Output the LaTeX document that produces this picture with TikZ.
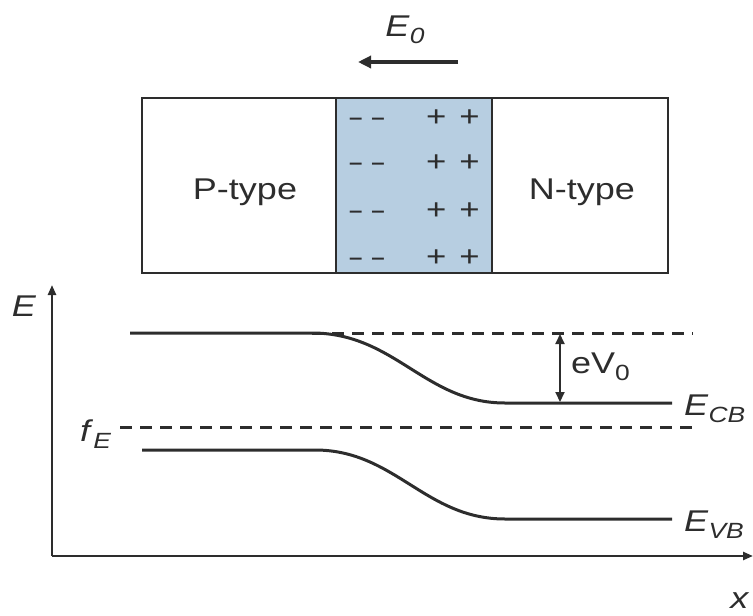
\documentclass[tikz,border=0pt]{standalone}
\usepackage{fontspec}
\setmainfont{Liberation Sans}[FakeStretch=1.2]
\usetikzlibrary{arrows.meta}
\definecolor{ln}{RGB}{45,45,45}
\definecolor{dep}{RGB}{183,206,225}
\newcommand\sublbl[3]{#1\raisebox{-0.45ex}{\fontsize{#3}{#3}\selectfont #2}}
\begin{document}
\begin{tikzpicture}[x=1pt,y=-1pt,
  lbl/.style={inner sep=0pt, text=ln},
  big/.style={lbl, font=\fontsize{30}{32}\selectfont},
  chg/.style={lbl, font=\fontsize{29}{30}\selectfont},
  mns/.style={lbl, font=\bfseries\fontsize{20}{22}\selectfont},
  band/.style={draw=ln, line width=3pt},
  dsh/.style={draw=ln, line width=3pt, dash pattern=on 12pt off 8pt},
  axis/.style={draw=ln, line width=2.4pt, -{Triangle[length=10pt,width=8pt]}}]
\useasboundingbox (0,0) rectangle (753,616);
% junction
\draw[ln, line width=1.4pt] (142,98) rectangle (668,273);
\path[fill=dep, draw=ln, line width=1.6pt] (336,98) rectangle (492,273);
\node[big] (p) at (245,192) {P-type};
\node[big] (n) at (582,192) {N-type};
\foreach \y/\i in {118/1,163/2,211/3,258/4}{
  \node[mns] (m\i) at (367,\y+3) {–\hspace{9pt}–};
  \node[chg] (pl\i) at (453,\y) {+\hspace{13pt}+};
}
% field
\node[big] (e0) at (405,30) {\sublbl{\textit{E}}{\textit{0}}{22}};
\coordinate (a1) at (458,62);
\coordinate (a2) at (358,62);
\draw[draw=ln, line width=4pt, -{Triangle[length=13pt,width=12pt]}] (a1) -- (a2);
% axes
\coordinate (o) at (52,556);
\coordinate (ytop) at (52,285);
\coordinate (xend) at (753,556);
\draw[axis] (o) -- (ytop);
\draw[axis] (o) -- (xend);
\node[big] (el) at (24,306) {\textit{E}};
\node[big] (xl) at (740,601) {\textit{x}};
% bands
\coordinate (cb0) at (130,333);
\coordinate (cb1) at (312,333);
\coordinate (cb2) at (505,403);
\coordinate (cb3) at (672,403);
\draw[band] (cb0) -- (cb1) .. controls (395,333) and (425,403) .. (cb2) -- (cb3);
\coordinate (vb0) at (142,450);
\coordinate (vb1) at (315,450);
\coordinate (vb2) at (505,519);
\coordinate (vb3) at (672,519);
\draw[band] (vb0) -- (vb1) .. controls (395,450) and (425,519) .. (vb2) -- (vb3);
\coordinate (d0) at (312,333);
\coordinate (d1) at (693,333);
\draw[dsh] (d0) -- (d1);
\coordinate (f0) at (120,427);
\coordinate (f1) at (693,427);
\draw[dsh] (f0) -- (f1);
% eV0
\coordinate (v0) at (560,334);
\coordinate (v1) at (560,402);
\draw[draw=ln, line width=2pt, {Triangle[length=10pt,width=9pt]}-{Triangle[length=10pt,width=9pt]}] (v0) -- (v1);
\node[big, anchor=west] (ev) at (571,367) {\sublbl{eV}{0}{22}};
\node[big, anchor=west] (ecb) at (684,409) {\sublbl{\textit{E}}{\textit{CB}}{22}};
\node[big, anchor=west] (evb) at (684,525) {\sublbl{\textit{E}}{\textit{VB}}{22}};
\node[big, anchor=west] (fe) at (80,434) {\sublbl{\textit{f}}{\textit{E}}{22}};
\end{tikzpicture}
\end{document}
